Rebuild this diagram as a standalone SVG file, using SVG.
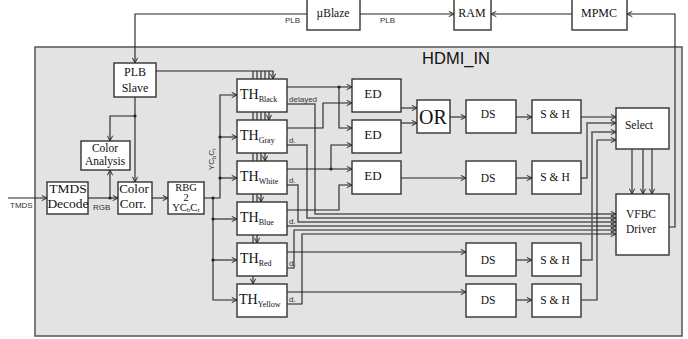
<svg xmlns="http://www.w3.org/2000/svg" width="688" height="339" viewBox="0 0 688 339">
<style>
.box{fill:#fff;stroke:#333;stroke-width:1.4}
.frame{fill:#e3e3e3;stroke:#555;stroke-width:1.5}
.t{font-family:"Liberation Serif",serif;fill:#111;text-anchor:middle}
.th{font-family:"Liberation Serif",serif;fill:#111;text-anchor:start;font-size:14px}
.s{font-family:"Liberation Sans",Arial,sans-serif;fill:#333;font-size:8px}
.c{fill:none;stroke:#222;stroke-width:1.1}
.g{fill:none;stroke:#555;stroke-width:1.5}
.dot{fill:#222}
</style>
<defs>
<marker id="a" viewBox="0 0 8 8" refX="7" refY="4" markerWidth="7" markerHeight="7" markerUnits="userSpaceOnUse" orient="auto"><path d="M1,1 L7,4 L1,7" fill="none" stroke="#222" stroke-width="1.1"/></marker>
</defs>
<rect class="frame" x="35" y="47" width="647" height="289"/>
<text x="456" y="64" font-family="Liberation Sans, Arial, sans-serif" font-size="16.5" fill="#111" text-anchor="middle">HDMI_IN</text>

<g id="connectors">
<path class="c" d="M307,14 H135 V63" marker-end="url(#a)"/>
<path class="c" d="M360,14 H454" marker-end="url(#a)"/>
<path class="c" d="M572,14 H491" marker-end="url(#a)"/>
<path class="c" d="M669,227 H675 V14 H627" marker-end="url(#a)"/>
<path class="c" d="M156,71 H273 V79" marker-end="url(#a)"/>
<path class="c" d="M253,71 V79 M257,71 V79 M261,71 V79 M265,71 V79 M269,71 V79"/>
<path class="c" d="M253,112 V120 M257,112 V120 M261,112 V120 M265,112 V120"/>
<path class="c" d="M269,112 V120" marker-end="url(#a)"/>
<path class="c" d="M253,153 V161 M257,153 V161 M261,153 V161"/>
<path class="c" d="M265,153 V161" marker-end="url(#a)"/>
<path class="c" d="M253,194 V202 M257,194 V202"/>
<path class="c" d="M261,194 V202" marker-end="url(#a)"/>
<path class="c" d="M253,235 V243"/>
<path class="c" d="M257,235 V243" marker-end="url(#a)"/>
<path class="c" d="M253,276 V284" marker-end="url(#a)"/>
<path class="c" d="M135,97 V182" marker-end="url(#a)"/>
<path class="c" d="M135,116 H110 V141" marker-end="url(#a)"/>
<path class="c" d="M8,198 H47" marker-end="url(#a)"/>
<path class="c" d="M88,198 H118" marker-end="url(#a)"/>
<path class="c" d="M110,198 V170" marker-end="url(#a)"/>
<path class="c" d="M152,198 H168" marker-end="url(#a)"/>
<path class="c" d="M204,198 H220 V95 H237" marker-end="url(#a)"/>
<path class="c" d="M220,137 H237" marker-end="url(#a)"/>
<path class="c" d="M220,178 H237" marker-end="url(#a)"/>
<path class="c" d="M213,198 V300 H237" marker-end="url(#a)"/>
<path class="c" d="M213,219 H237" marker-end="url(#a)"/>
<path class="c" d="M213,260 H237" marker-end="url(#a)"/>
<path class="g" d="M287,104 H315 V214 H616" marker-end="url(#a)"/>
<path class="g" d="M287,145 H307 V218 H616" marker-end="url(#a)"/>
<path class="g" d="M287,185 H298 V222 H616" marker-end="url(#a)"/>
<path class="g" d="M287,226 H616" marker-end="url(#a)"/>
<path class="c" d="M287,268 H294 V230 H616" marker-end="url(#a)"/>
<path class="c" d="M287,304 H302 V234 H616" marker-end="url(#a)"/>
<path class="c" d="M287,87 H352" marker-end="url(#a)"/>
<path class="c" d="M339,87 V128 H352" marker-end="url(#a)"/>
<path class="c" d="M287,128 H323 V103 H352" marker-end="url(#a)"/>
<path class="c" d="M287,169 H352" marker-end="url(#a)"/>
<path class="c" d="M331,169 V145 H352" marker-end="url(#a)"/>
<path class="c" d="M287,210 H339 V185 H352" marker-end="url(#a)"/>
<path class="c" d="M401,108 H417" marker-end="url(#a)"/>
<path class="c" d="M401,123 H417" marker-end="url(#a)"/>
<path class="c" d="M450,117 H466" marker-end="url(#a)"/>
<path class="c" d="M516,117 H532" marker-end="url(#a)"/>
<path class="c" d="M581,117 H616" marker-end="url(#a)"/>
<path class="c" d="M401,178 H466" marker-end="url(#a)"/>
<path class="c" d="M516,178 H532" marker-end="url(#a)"/>
<path class="g" d="M581,178 H587 V123 H616" marker-end="url(#a)"/>
<path class="c" d="M287,252 H466" marker-end="url(#a)"/>
<path class="c" d="M516,260 H532" marker-end="url(#a)"/>
<path class="g" d="M581,260 H592 V132 H616" marker-end="url(#a)"/>
<path class="c" d="M287,292 H466" marker-end="url(#a)"/>
<path class="c" d="M516,300 H532" marker-end="url(#a)"/>
<path class="c" d="M581,300 H597 V140 H616" marker-end="url(#a)"/>
<path class="g" d="M632,149 V194" marker-end="url(#a)"/>
<path class="g" d="M643,149 V194" marker-end="url(#a)"/>
<path class="c" d="M652,149 V194" marker-end="url(#a)"/>
<circle class="dot" cx="135" cy="116" r="1.6"/>
<circle class="dot" cx="110" cy="198" r="1.6"/>
<circle class="dot" cx="213" cy="198" r="1.6"/>
<circle class="dot" cx="220" cy="137" r="1.6"/>
<circle class="dot" cx="220" cy="178" r="1.6"/>
<circle class="dot" cx="213" cy="219" r="1.6"/>
<circle class="dot" cx="213" cy="260" r="1.6"/>
<circle class="dot" cx="339" cy="87" r="1.6"/>
<circle class="dot" cx="331" cy="169" r="1.6"/>
</g>

<g id="labels">
<text class="s" x="285" y="23">PLB</text>
<text class="s" x="380" y="23">PLB</text>
<text class="s" x="10" y="208">TMDS</text>
<text class="s" x="93" y="210">RGB</text>
<text class="s" x="289" y="102" font-size="7.5">delayed</text>
<text class="s" x="289" y="143" font-size="7.5">d.</text>
<text class="s" x="289" y="183" font-size="7.5">d.</text>
<text class="s" x="289" y="224" font-size="7.5">d.</text>
<text class="s" x="289" y="266" font-size="7.5">d.</text>
<text class="s" x="289" y="302" font-size="7.5">d.</text>
<text class="s" transform="translate(214,159) rotate(-90)" text-anchor="middle">YC<tspan font-size="6" dy="1.5">b</tspan><tspan dy="-1.5">C</tspan><tspan font-size="6" dy="1.5">r</tspan></text>
</g>

<g id="ublaze"><rect class="box" x="307" y="-1" width="53" height="31"/><text class="t" x="333" y="17" font-size="11.5">µBlaze</text></g>
<g id="ram"><rect class="box" x="454" y="-1" width="37" height="31"/><text class="t" x="472" y="17" font-size="12">RAM</text></g>
<g id="mpmc"><rect class="box" x="572" y="-1" width="55" height="31"/><text class="t" x="599" y="17" font-size="12">MPMC</text></g>

<g id="plb-slave"><rect class="box" x="114" y="63" width="42" height="34"/><text class="t" x="135" y="76" font-size="12">PLB</text><text class="t" x="135" y="92" font-size="12">Slave</text></g>
<g id="color-analysis"><rect class="box" x="81" y="141" width="49" height="29"/><text class="t" x="105" y="152" font-size="11.5">Color</text><text class="t" x="105" y="165" font-size="11.5">Analysis</text></g>
<g id="tmds-decode"><rect class="box" x="47" y="182" width="41" height="32"/><text class="t" x="68" y="193" font-size="13.5">TMDS</text><text class="t" x="68" y="208" font-size="13.5">Decode</text></g>
<g id="color-corr"><rect class="box" x="118" y="182" width="34" height="32"/><text class="t" x="134" y="193" font-size="13">Color</text><text class="t" x="133" y="208" font-size="13">Corr.</text></g>
<g id="rbg2ycbcr"><rect class="box" x="168" y="182" width="36" height="32"/><text class="t" x="186" y="191" font-size="10.5">RBG</text><text class="t" x="186" y="201" font-size="10.5">2</text><text class="t" x="186" y="211" font-size="10.5">YC<tspan font-size="7" dy="1">b</tspan><tspan dy="-1">C</tspan><tspan font-size="7" dy="1">r</tspan></text></g>

<g id="th-black"><rect class="box" x="237" y="79" width="50" height="33"/><text class="th" x="240" y="99">TH<tspan font-size="8" dy="2.5">Black</tspan></text></g>
<g id="th-gray"><rect class="box" x="237" y="120" width="50" height="33"/><text class="th" x="240" y="140">TH<tspan font-size="8" dy="2.5">Gray</tspan></text></g>
<g id="th-white"><rect class="box" x="237" y="161" width="50" height="33"/><text class="th" x="240" y="181">TH<tspan font-size="8" dy="2.5">White</tspan></text></g>
<g id="th-blue"><rect class="box" x="237" y="202" width="50" height="33"/><text class="th" x="240" y="222">TH<tspan font-size="8" dy="2.5">Blue</tspan></text></g>
<g id="th-red"><rect class="box" x="237" y="243" width="50" height="33"/><text class="th" x="240" y="263">TH<tspan font-size="8" dy="2.5">Red</tspan></text></g>
<g id="th-yellow"><rect class="box" x="237" y="284" width="50" height="33"/><text class="th" x="239" y="304">TH<tspan font-size="8" dy="2.5">Yellow</tspan></text></g>

<g id="ed1"><rect class="box" x="352" y="79" width="49" height="33"/><text class="t" x="373" y="98" font-size="13">ED</text></g>
<g id="ed2"><rect class="box" x="352" y="120" width="49" height="33"/><text class="t" x="373" y="139" font-size="13">ED</text></g>
<g id="ed3"><rect class="box" x="352" y="161" width="49" height="33"/><text class="t" x="373" y="180" font-size="13">ED</text></g>
<g id="or"><rect class="box" x="417" y="100" width="33" height="33"/><text class="t" x="433" y="124" font-size="20">OR</text></g>

<g id="ds1"><rect class="box" x="466" y="100" width="50" height="33"/><text class="t" x="488" y="118" font-size="11.5">DS</text></g>
<g id="sh1"><rect class="box" x="532" y="100" width="49" height="33"/><text class="t" x="555" y="118" font-size="11.5">S &amp; H</text></g>
<g id="ds2"><rect class="box" x="466" y="161" width="50" height="33"/><text class="t" x="488" y="182" font-size="11.5">DS</text></g>
<g id="sh2"><rect class="box" x="532" y="161" width="49" height="33"/><text class="t" x="555" y="181" font-size="11.5">S &amp; H</text></g>
<g id="ds3"><rect class="box" x="466" y="243" width="50" height="33"/><text class="t" x="488" y="264" font-size="11.5">DS</text></g>
<g id="sh3"><rect class="box" x="532" y="243" width="49" height="33"/><text class="t" x="555" y="264" font-size="11.5">S &amp; H</text></g>
<g id="ds4"><rect class="box" x="466" y="284" width="50" height="33"/><text class="t" x="488" y="304" font-size="11.5">DS</text></g>
<g id="sh4"><rect class="box" x="532" y="284" width="49" height="33"/><text class="t" x="555" y="304" font-size="11.5">S &amp; H</text></g>

<g id="select"><rect class="box" x="616" y="108" width="53" height="41"/><text class="t" x="639" y="129" font-size="11.5">Select</text></g>
<g id="vfbc"><rect class="box" x="616" y="194" width="53" height="61"/><text class="t" x="641" y="218" font-size="11.5">VFBC</text><text class="t" x="641" y="233" font-size="11.5">Driver</text></g>
</svg>
